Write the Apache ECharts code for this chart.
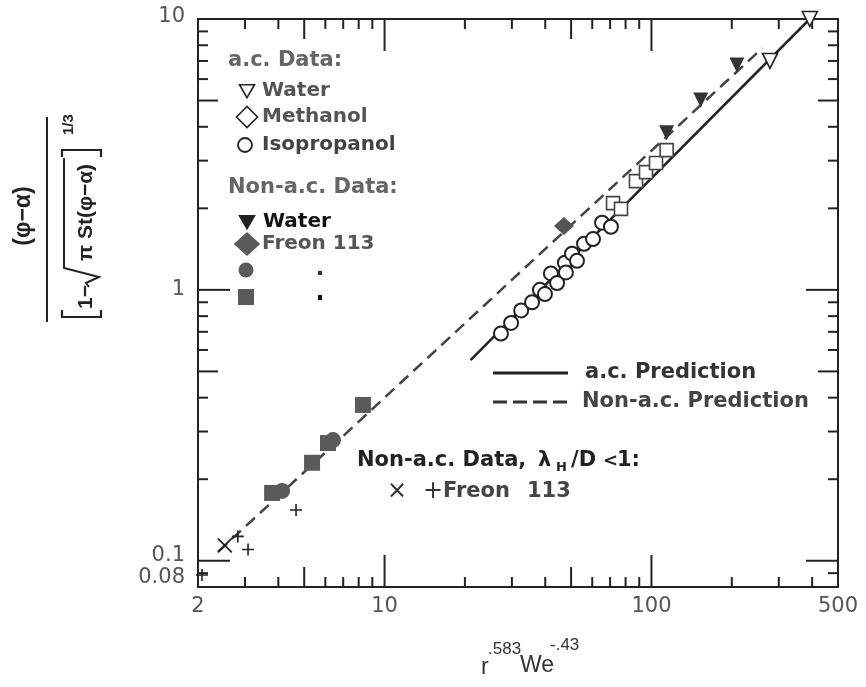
<!DOCTYPE html>
<html>
<head>
<meta charset="utf-8">
<script src="https://cdn.jsdelivr.net/npm/echarts@6/dist/echarts.min.js"></script>
<style>
  html, body { margin: 0; padding: 0; background: #fff; }
  #chart { width: 866px; height: 687px; }
</style>
</head>
<body>
<div id="chart"></div>
<script>
// ---- data (x = r^.583 We^-.43, y = reduced void/holdup group) ----
const acWater        = [[278, 7.0], [392, 10.0]];
const acMethanol     = [[71.8, 2.09], [76.9, 1.99], [87.5, 2.52], [95.4, 2.72], [104, 2.94], [114, 3.28]];
const acIsopropanol  = [[27.3, 0.69], [29.8, 0.755], [32.5, 0.84], [35.7, 0.90], [38.2, 1.00], [39.9, 0.965],
                        [42.0, 1.15], [44.3, 1.06], [47.4, 1.26], [47.8, 1.16], [50.4, 1.36], [52.6, 1.28],
                        [55.9, 1.48], [60.4, 1.54], [65.3, 1.77], [70.5, 1.71]];
const nonAcWater     = [[114, 3.80], [153, 5.02], [209, 6.77]];
const nonAcFreon     = [[47.0, 1.72]];
const nonAcRound     = [[6.41, 0.279], [4.13, 0.181]];
const nonAcSquare    = [[8.30, 0.376], [6.14, 0.272], [5.35, 0.230], [3.79, 0.178]];
const shortCross     = [[2.52, 0.114]];
const shortPlus      = [[2.82, 0.123], [3.08, 0.110], [4.66, 0.154], [2.07, 0.0886]];
const acPrediction    = [[21, 0.55], [392, 10]];
const nonAcPrediction = [[2.38, 0.108], [260, 7.8]];

// axis ranges and tick positions
const xRange = [2, 500];
const yRange = [0.08, 10];
const xMajorTicks = [10, 100];
const xMidTicks   = [5, 50];
const xMinorTicks = [3, 4, 6, 7, 8, 9, 20, 30, 40, 60, 70, 80, 90, 200, 300, 400];
const yMajorTicks = [0.1, 1];
const yMidTicks   = [0.5, 5];
const yMinorTicks = [0.09, 0.2, 0.3, 0.4, 0.6, 0.7, 0.8, 0.9, 2, 3, 4, 6, 7, 8, 9];

// ---- styling ----
const FONT = '"DejaVu Sans", sans-serif';
const FORMULA_FONT = '"Liberation Sans", Arial, sans-serif';
const INK = '#222';
const TICK_LEN = { major: 32, mid: 20, minor: 10 };
const yLabelLift = { '10': 'up2', '0.1': 'up5', '0.08': 'up9' };

const fmt = v => String(parseFloat(Number(v).toPrecision(4)));

function tickData(major, mid, minor) {
  return major.map(v => [v, TICK_LEN.major])
    .concat(mid.map(v => [v, TICK_LEN.mid]))
    .concat(minor.map(v => [v, TICK_LEN.minor]));
}
const tickStyle = { stroke: INK, lineWidth: 2 };

// inward ticks on bottom and top edges; item = [x, y(any), length]
function renderXTick(params, api) {
  const v = api.value(0), len = api.value(2);
  const b = api.coord([v, yRange[0]]);
  const t = api.coord([v, yRange[1]]);
  return { type: 'group', children: [
    { type: 'line', shape: { x1: b[0], y1: b[1], x2: b[0], y2: b[1] - len }, style: tickStyle },
    { type: 'line', shape: { x1: t[0], y1: t[1], x2: t[0], y2: t[1] + len }, style: tickStyle }
  ]};
}
// inward ticks on left and right edges; item = [x(any), y, length]
function renderYTick(params, api) {
  const v = api.value(1), len = api.value(2);
  const l = api.coord([xRange[0], v]);
  const r = api.coord([xRange[1], v]);
  return { type: 'group', children: [
    { type: 'line', shape: { x1: l[0], y1: l[1], x2: l[0] + len, y2: l[1] }, style: tickStyle },
    { type: 'line', shape: { x1: r[0], y1: r[1], x2: r[0] - len, y2: r[1] }, style: tickStyle }
  ]};
}

function scatter(name, data, symbol, size, itemStyle, extra) {
  return Object.assign({
    name, type: 'scatter', data, symbol, symbolSize: size, clip: false,
    itemStyle: Object.assign({ opacity: 1 }, itemStyle), z: 5, silent: true
  }, extra || {});
}

// ---- legend / annotation graphics ----
function txt(x, y, text, size, fill, extra) {
  return { type: 'text', x, y, silent: true,
    style: Object.assign({ text, font: 'bold ' + size + 'px ' + FONT, fill, align: 'left', verticalAlign: 'middle' }, extra || {}) };
}
function triDown(cx, cy, w, fill) {
  return { type: 'polygon', silent: true,
    shape: { points: [[cx - w / 2, cy - w * 0.42], [cx + w / 2, cy - w * 0.42], [cx, cy + w * 0.45]] },
    style: { fill, stroke: INK, lineWidth: 1.6 } };
}
function diamond(cx, cy, w, h, fill, stroke) {
  return { type: 'polygon', silent: true,
    shape: { points: [[cx - w / 2, cy], [cx, cy - h / 2], [cx + w / 2, cy], [cx, cy + h / 2]] },
    style: { fill, stroke, lineWidth: 1.6 } };
}

const legendGraphics = [
  txt(228, 61, 'a.c. Data:', 21, '#666'),
  triDown(247, 91, 15, '#fff'),
  txt(262, 91, 'Water', 20, '#555'),
  diamond(247, 117, 21, 21, '#fff', INK),
  txt(262, 117, 'Methanol', 20, '#555'),
  { type: 'circle', silent: true, shape: { cx: 245, cy: 145, r: 7 }, style: { fill: '#fff', stroke: INK, lineWidth: 1.8 } },
  txt(262, 145, 'Isopropanol', 20, '#444'),
  txt(228, 188, 'Non-a.c. Data:', 21, '#666'),
  triDown(247, 222, 15, '#222'),
  txt(263, 222, 'Water', 20, '#111'),
  diamond(247, 244, 24, 22, '#5a5a5a', '#5a5a5a'),
  txt(262, 244, 'Freon 113', 20, '#555'),
  { type: 'circle', silent: true, shape: { cx: 246, cy: 270, r: 7.5 }, style: { fill: '#5a5a5a' } },
  { type: 'rect', silent: true, shape: { x: 238, y: 289, width: 16, height: 16 }, style: { fill: '#5a5a5a' } },
  { type: 'rect', silent: true, shape: { x: 318, y: 271, width: 4, height: 4 }, style: { fill: '#333' } },
  { type: 'rect', silent: true, shape: { x: 318, y: 295, width: 4, height: 5 }, style: { fill: '#111' } },

  // prediction key
  { type: 'line', silent: true, shape: { x1: 493, y1: 373, x2: 568, y2: 373 }, style: { stroke: INK, lineWidth: 3 } },
  txt(585, 373, 'a.c. Prediction', 21, '#333'),
  { type: 'line', silent: true, shape: { x1: 493, y1: 402, x2: 568, y2: 402 }, style: { stroke: '#333', lineWidth: 3, lineDash: [14, 6] } },
  txt(582, 402, 'Non-a.c. Prediction', 21, '#444'),

  // short-wavelength note
  txt(357, 461, 'Non-a.c. Data,', 21, '#222'),
  txt(538, 461, 'λ', 21, '#222'),
  txt(556, 468, 'H', 13, '#222'),
  txt(571, 461, '/D', 21, '#222'),
  txt(603, 461, '<', 18, '#222'),
  txt(617, 461, '1:', 21, '#222'),
  txt(387, 492, '×', 24, '#333', { font: '24px ' + FONT }),
  txt(423, 492, '+', 24, '#333', { font: '24px ' + FONT }),
  txt(443, 492, 'Freon', 21, '#444'),
  txt(527, 492, '113', 21, '#444')
];

// y-axis title: rotated fraction
const yTitle = {
  type: 'group', x: 47, y: 220, rotation: Math.PI / 2, silent: true,
  children: [
    { type: 'line', shape: { x1: -102, y1: 0, x2: 103, y2: 0 }, style: { stroke: INK, lineWidth: 2 } },
    { type: 'text', x: 4, y: -12, style: { text: '(φ−α)', font: 'bold 23px ' + FORMULA_FONT, fill: INK, align: 'center', verticalAlign: 'bottom' } },
    { type: 'polyline', shape: { points: [[-90, 15], [-97, 15], [-97, 54], [-90, 54]] }, style: { stroke: INK, lineWidth: 2.2, fill: null } },
    { type: 'text', x: -89, y: 39, style: { text: '1−', font: 'bold 21px ' + FORMULA_FONT, fill: INK, align: 'left', verticalAlign: 'middle' } },
    { type: 'polyline', shape: { points: [[-67, 42], [-63, 39], [-57, 52], [-48, 17], [62, 17]] }, style: { stroke: INK, lineWidth: 2, fill: null } },
    { type: 'text', x: -41, y: 39, style: { text: 'π St(φ−α)', font: 'bold 21px ' + FORMULA_FONT, fill: INK, align: 'left', verticalAlign: 'middle' } },
    { type: 'polyline', shape: { points: [[63, 15], [70, 15], [70, 54], [63, 54]] }, style: { stroke: INK, lineWidth: 2.2, fill: null } },
    { type: 'text', x: 85, y: 22, style: { text: '1/3', font: 'bold 15px ' + FORMULA_FONT, fill: INK, align: 'left', verticalAlign: 'middle' } }
  ]
};

// x-axis title with superscripts
const xTitle = [
  { type: 'text', x: 481, y: 668, silent: true, style: { text: 'r', font: '23px ' + FORMULA_FONT, fill: '#333', align: 'left', verticalAlign: 'middle' } },
  { type: 'text', x: 488, y: 649, silent: true, style: { text: '.583', font: '17px ' + FORMULA_FONT, fill: '#333', align: 'left', verticalAlign: 'middle' } },
  { type: 'text', x: 520, y: 666, silent: true, style: { text: 'We', font: '23px ' + FORMULA_FONT, fill: '#333', align: 'left', verticalAlign: 'middle' } },
  { type: 'text', x: 550, y: 645, silent: true, style: { text: '-.43', font: '17px ' + FORMULA_FONT, fill: '#333', align: 'left', verticalAlign: 'middle' } }
];

const labelStyle = { fontFamily: FONT, fontSize: 21, color: '#555' };

const option = {
  backgroundColor: '#fff',
  animation: false,
  grid: { left: 198, right: 28, top: 19, bottom: 100, show: true, borderColor: INK, borderWidth: 2, backgroundColor: 'transparent' },
  xAxis: {
    type: 'log', logBase: 10, min: xRange[0], max: xRange[1],
    axisLine: { show: false }, axisTick: { show: false }, splitLine: { show: false }, minorTick: { show: false },
    axisLabel: Object.assign({ margin: 9, showMinLabel: true, showMaxLabel: true, formatter: v => fmt(v) }, labelStyle)
  },
  yAxis: {
    type: 'log', logBase: 10, min: yRange[0], max: yRange[1],
    axisLine: { show: false }, axisTick: { show: false }, splitLine: { show: false }, minorTick: { show: false },
    axisLabel: {
      margin: 13, showMinLabel: true, showMaxLabel: true,
      formatter: v => { const s = fmt(v); return '{' + (yLabelLift[s] || 'n') + '|' + s + '}'; },
      rich: {
        n:   Object.assign({}, labelStyle),
        up2: Object.assign({ padding: [0, 0, 4, 0] }, labelStyle),
        up5: Object.assign({ padding: [0, 0, 10, 0] }, labelStyle),
        up9: Object.assign({ padding: [0, 0, 18, 0] }, labelStyle)
      }
    }
  },
  graphic: { elements: legendGraphics.concat([yTitle]).concat(xTitle) },
  series: [
    { type: 'custom', name: 'x ticks', renderItem: renderXTick,
      data: tickData(xMajorTicks, xMidTicks, xMinorTicks).map(d => [d[0], 1, d[1]]),
      dimensions: ['x', 'y', 'len'], encode: { x: 0, y: 1 }, silent: true, z: 3, clip: false },
    { type: 'custom', name: 'y ticks', renderItem: renderYTick,
      data: tickData(yMajorTicks, yMidTicks, yMinorTicks).map(d => [10, d[0], d[1]]),
      dimensions: ['x', 'y', 'len'], encode: { x: 0, y: 1 }, silent: true, z: 3, clip: false },

    { name: 'Non-a.c. Prediction', type: 'line', data: nonAcPrediction, symbol: 'none', silent: true, z: 2,
      lineStyle: { color: '#444', width: 2.5, type: [12, 7] } },
    { name: 'a.c. Prediction', type: 'line', data: acPrediction, symbol: 'none', silent: true, z: 2,
      lineStyle: { color: INK, width: 2.5 } },

    scatter('a.c. Isopropanol', acIsopropanol, 'circle', 14, { color: '#fff', borderColor: INK, borderWidth: 2 }),
    scatter('a.c. Methanol', acMethanol, 'rect', 13, { color: '#fff', borderColor: '#444', borderWidth: 1.6 }),
    scatter('a.c. Water', acWater, 'triangle', 15, { color: '#fff', borderColor: INK, borderWidth: 1.6 }, { symbolRotate: 180 }),
    scatter('Non-a.c. Water', nonAcWater, 'triangle', 15, { color: '#333' }, { symbolRotate: 180 }),
    scatter('Non-a.c. Freon 113', nonAcFreon, 'diamond', [20, 18], { color: '#555' }),
    scatter('Non-a.c. square', nonAcSquare, 'rect', 16, { color: '#5a5a5a' }),
    scatter('Non-a.c. round', nonAcRound, 'circle', 16, { color: '#5a5a5a' }),
    scatter('Short wavelength x', shortCross, 'path://M0,0L20,20M20,0L0,20', 14, { color: 'none', borderColor: INK, borderWidth: 1.8 }),
    scatter('Short wavelength +', shortPlus, 'path://M10,0L10,20M0,10L20,10', 12, { color: 'none', borderColor: INK, borderWidth: 1.6 })
  ]
};

const chart = echarts.init(document.getElementById('chart'));
chart.setOption(option);
</script>
</body>
</html>
